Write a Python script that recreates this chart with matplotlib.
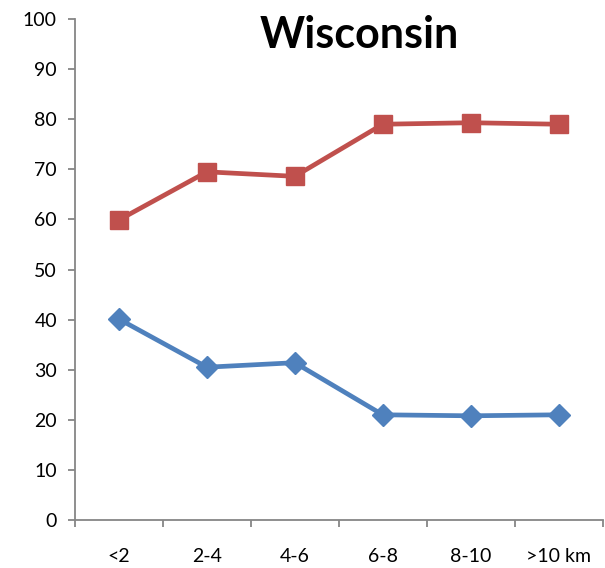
import numpy as np
import matplotlib.pyplot as plt

plt.rcParams['font.family'] = ['Lato', 'DejaVu Sans']

categories = ['<2', '2-4', '4-6', '6-8', '8-10', '>10 km']
red_values = [59.9, 69.5, 68.6, 79.0, 79.3, 79.0]
blue_values = [40.1, 30.5, 31.4, 21.0, 20.8, 21.0]

x = np.arange(len(categories))

fig = plt.figure(figsize=(6.05, 5.68), dpi=100)
ax = fig.add_axes([0.124, 0.0845, 0.872, 0.882])

ax.plot(x, red_values, color='#C0504D', linewidth=3.4, marker='s',
        markersize=13, zorder=3)
ax.plot(x, blue_values, color='#4F81BD', linewidth=3.4, marker='D',
        markersize=11, zorder=3)

ax.set_xlim(-0.5, len(categories) - 0.5)
ax.set_ylim(0, 100)
ax.set_yticks(range(0, 101, 10))

# category labels centred, tick marks between categories
ax.set_xticks(np.arange(-0.5, len(categories), 1.0))
ax.set_xticklabels([])
ax.set_xticks(x, minor=True)
ax.set_xticklabels(categories, minor=True)
ax.tick_params(axis='x', which='minor', length=0, pad=20, labelsize=14)
ax.tick_params(axis='x', which='major', direction='out', length=5,
               color='#868686', width=1.3)
ax.tick_params(axis='y', direction='out', length=5, color='#868686',
               width=1.3, labelsize=14, pad=8)

for side in ['top', 'right']:
    ax.spines[side].set_visible(False)
for side in ['left', 'bottom']:
    ax.spines[side].set_color('#868686')
    ax.spines[side].set_linewidth(1.3)

ax.text(0.539, 0.968, 'Wisconsin', transform=ax.transAxes, ha='center',
        va='center', fontsize=31, fontweight='bold')

fig.savefig('out.png', dpi=100)
